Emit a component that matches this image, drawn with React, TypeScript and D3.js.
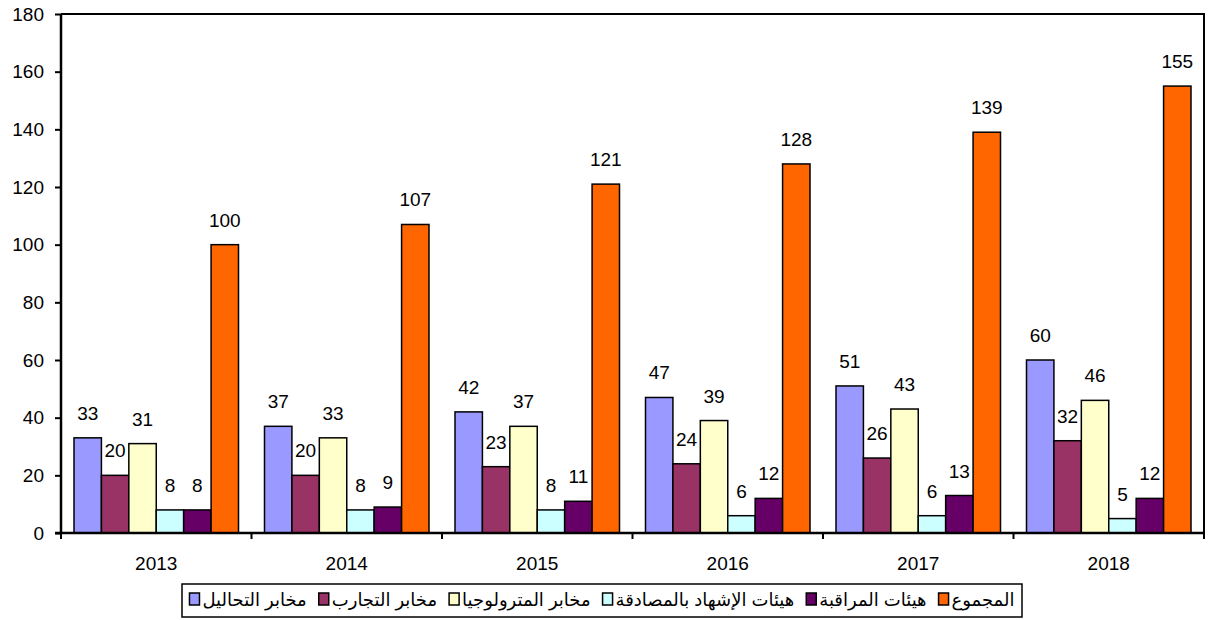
import React, { useEffect, useRef } from "react";
import * as d3 from "d3";

// data
const years = ["2013", "2014", "2015", "2016", "2017", "2018"];
const seriesNames = [
  "مخابر التحاليل",
  "مخابر التجارب",
  "مخابر المترولوجيا",
  "هيئات الإشهاد بالمصادقة",
  "هيئات المراقبة",
  "المجموع",
];
const seriesColors = ["#9999FF", "#993366", "#FFFFCC", "#CCFFFF", "#660066", "#FF6600"];
const analysisLabs = [33, 37, 42, 47, 51, 60];
const testingLabs = [20, 20, 23, 24, 26, 32];
const metrologyLabs = [31, 33, 37, 39, 43, 46];
const certBodies = [8, 8, 8, 6, 6, 5];
const inspectionBodies = [8, 9, 11, 12, 13, 12];
const totals = [100, 107, 121, 128, 139, 155];
const yTicks = [0, 20, 40, 60, 80, 100, 120, 140, 160, 180];

const seriesValues = [analysisLabs, testingLabs, metrologyLabs, certBodies, inspectionBodies, totals];

const FONT = "Arial, 'Liberation Sans', 'DejaVu Sans', sans-serif";
const FS = 19;

export default function App() {
  const ref = useRef<SVGSVGElement>(null);

  useEffect(() => {
    const svg = d3.select(ref.current);
    svg.selectAll("*").remove();

    const margin = { top: 14, left: 61, right: 5, bottom: 87 };
    const width = 1209;
    const height = 620;
    const innerW = width - margin.left - margin.right;
    const innerH = height - margin.top - margin.bottom;

    const x = d3.scaleBand().domain(years).range([0, innerW]).padding(0);
    const xs = d3
      .scaleBand<number>()
      .domain(d3.range(seriesNames.length))
      .range([13, x.bandwidth() - 13])
      .padding(0);
    const y = d3.scaleLinear().domain([0, 180]).range([innerH, 0]);

    const g = svg.append("g").attr("transform", `translate(${margin.left},${margin.top})`);

    // bars + value labels
    seriesValues.forEach((vals, si) => {
      const sg = g.append("g");
      sg.selectAll("rect")
        .data(vals)
        .enter()
        .append("rect")
        .attr("x", (d, i) => (x(years[i]) as number) + (xs(si) as number))
        .attr("y", d => y(d))
        .attr("width", xs.bandwidth())
        .attr("height", d => innerH - y(d))
        .attr("fill", seriesColors[si])
        .attr("stroke", "#000")
        .attr("stroke-width", 1.5);
      sg.selectAll("text")
        .data(vals)
        .enter()
        .append("text")
        .attr("x", (d, i) => (x(years[i]) as number) + (xs(si) as number) + xs.bandwidth() / 2)
        .attr("y", d => y(d) - 18)
        .attr("text-anchor", "middle")
        .attr("font-family", FONT)
        .attr("font-size", FS)
        .attr("fill", "#000")
        .text(d => d);
    });

    // plot border (top + right)
    g.append("path")
      .attr("d", `M0,0H${innerW}V${innerH}`)
      .attr("fill", "none")
      .attr("stroke", "#000")
      .attr("stroke-width", 2);

    // y axis
    const yAxis = g.append("g").call(
      d3.axisLeft(y).tickValues(yTicks).tickSize(6).tickPadding(11)
    );
    yAxis.select(".domain").attr("stroke-width", 2.5).attr("d", `M0,0V${innerH}`);
    yAxis.selectAll(".tick line").attr("stroke-width", 2);
    yAxis.selectAll("text").attr("font-family", FONT).attr("font-size", FS).attr("fill", "#000");

    // x axis
    const xAxis = g.append("g").attr("transform", `translate(0,${innerH})`);
    xAxis
      .append("line")
      .attr("x1", -6)
      .attr("x2", innerW)
      .attr("stroke", "#000")
      .attr("stroke-width", 2.5);
    xAxis
      .selectAll("line.tk")
      .data(d3.range(years.length + 1))
      .enter()
      .append("line")
      .attr("class", "tk")
      .attr("x1", i => i * x.bandwidth())
      .attr("x2", i => i * x.bandwidth())
      .attr("y1", 0)
      .attr("y2", 6)
      .attr("stroke", "#000")
      .attr("stroke-width", 2);
    xAxis
      .selectAll("text")
      .data(years)
      .enter()
      .append("text")
      .attr("x", d => (x(d) as number) + x.bandwidth() / 2)
      .attr("y", 37)
      .attr("text-anchor", "middle")
      .attr("font-family", FONT)
      .attr("font-size", FS)
      .text(d => d);

    // legend
    const legend = svg.append("g");
    const box = legend
      .append("rect")
      .attr("fill", "#fff")
      .attr("stroke", "#000")
      .attr("stroke-width", 1.5);
    const items = legend.append("g");
    let cx = 0;
    seriesNames.forEach((name, i) => {
      const it = items.append("g").attr("transform", `translate(${cx},0)`);
      it.append("rect")
        .attr("x", 0)
        .attr("y", -13)
        .attr("width", 10)
        .attr("height", 12)
        .attr("fill", seriesColors[i])
        .attr("stroke", "#000")
        .attr("stroke-width", 1.5);
      const t = it
        .append("text")
        .attr("x", 13)
        .attr("y", 0)
        .attr("font-family", FONT)
        .attr("font-size", 18)
        .text(name);
      const w = (t.node() as SVGTextElement).getComputedTextLength();
      cx += 13 + w + 12;
    });
    const totalW = cx - 12;
    const legendX = 182;
    const legendW = 840;
    items.attr("transform", `translate(${legendX + (legendW - totalW) / 2},${606})`);
    box.attr("x", legendX).attr("y", 584).attr("width", legendW).attr("height", 33);
  }, []);

  return (
    <svg
      ref={ref}
      width={1209}
      height={620}
      style={{ position: "absolute", left: 0, top: 0, background: "#fff" }}
    />
  );
}
